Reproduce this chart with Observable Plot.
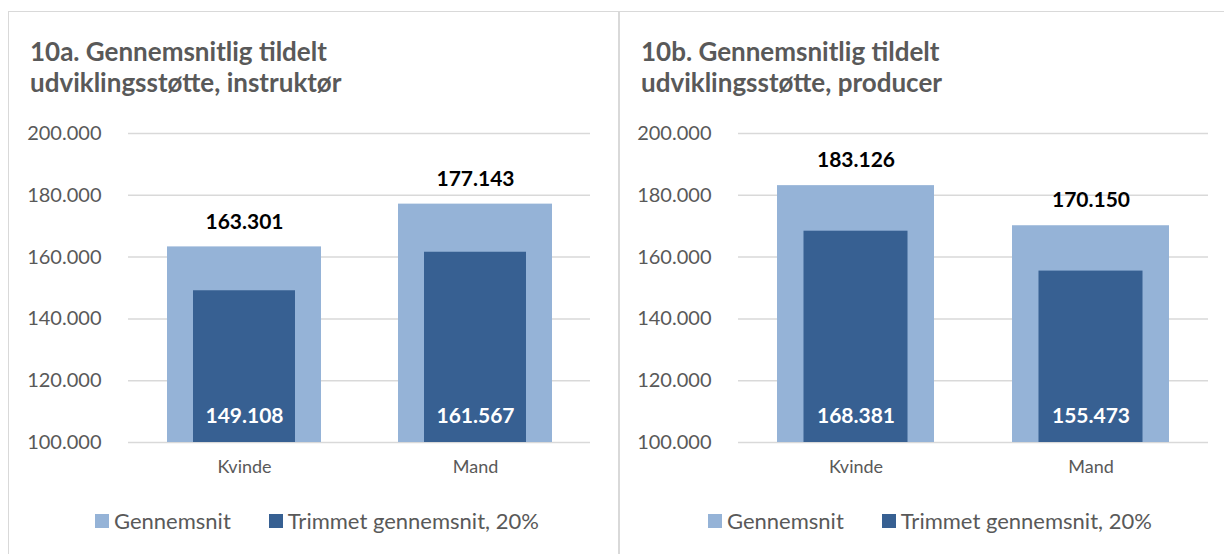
<!DOCTYPE html>
<html><head><meta charset="utf-8">
<script src="https://cdn.jsdelivr.net/npm/d3@7"></script>
<script src="https://cdn.jsdelivr.net/npm/@observablehq/plot@0.6"></script>
<style>
body{margin:0;background:#fff;font-family:Lato, sans-serif;}
#wrap{position:relative;width:1224px;height:554px;overflow:hidden;background:#fff;}
.panel{position:absolute;border:1.5px solid #d9d9d9;box-sizing:border-box;}
.title{position:absolute;font-weight:bold;color:#595959;font-size:26px;line-height:31px;white-space:nowrap;}
.legend{position:absolute;display:flex;align-items:center;color:#595959;font-size:22px;line-height:26px;white-space:nowrap;}
.item{display:flex;align-items:center;}
.sw{width:14px;height:14px;display:inline-block;margin-right:5px;}
.plot{position:absolute;top:100px;}
</style></head><body>
<div id="wrap">
  <div class="panel" style="left:8px;top:11px;width:612px;height:580px"></div>
  <div class="panel" style="left:618px;top:11px;width:640px;height:580px"></div>
  <div class="title" id="t0" style="left:30px;top:36px"></div>
  <div class="title" id="t1" style="left:641px;top:36px"></div>
  <div class="plot" id="p0" style="left:0px"></div>
  <div class="plot" id="p1" style="left:619px"></div>
  <div class="legend" id="l0" style="left:95px;top:508px"></div>
  <div class="legend" id="l1" style="left:708px;top:508px"></div>
</div>
<script>
const categories = ["Kvinde", "Mand"];
const gennemsnitA = [163301, 177143];
const trimmetA = [149108, 161567];
const gennemsnitB = [183126, 170150];
const trimmetB = [168381, 155473];
const yTicks = [100000, 120000, 140000, 160000, 180000, 200000];
const titlesA = ["10a. Gennemsnitlig tildelt", "udviklingsstøtte, instruktør"];
const titlesB = ["10b. Gennemsnitlig tildelt", "udviklingsstøtte, producer"];
const seriesNames = ["Gennemsnit", "Trimmet gennemsnit, 20%"];
const seriesColors = ["#95B3D7", "#376092"];

const locale = d3.formatLocale({decimal: ",", thousands: ".", grouping: [3], currency: ["", ""]});
const fmt = locale.format(",");

function panel(gen, trim, width, ml, mr, inset) {
  const rows = categories.map((c, i) => ({cat: c, gen: gen[i], trim: trim[i]}));
  return Plot.plot({
    width, height: 392, marginTop: 33, marginBottom: 50, marginLeft: ml, marginRight: mr,
    style: {fontFamily: "Lato", fontSize: "19px", color: "#595959", background: "transparent", overflow: "visible"},
    x: {domain: categories, paddingInner: 1/3, paddingOuter: 1/6, label: null},
    y: {domain: [100000, 200000], label: null},
    marks: [
      Plot.ruleY(yTicks, {stroke: "#d9d9d9", strokeWidth: 1.5}),
      Plot.barY(rows, {x: "cat", y1: 100000, y2: "gen", fill: seriesColors[0]}),
      Plot.barY(rows, {x: "cat", y1: 100000, y2: "trim", fill: seriesColors[1], insetLeft: inset, insetRight: inset}),
      Plot.text(rows, {x: "cat", y: "gen", text: d => fmt(d.gen), dy: -25, fontWeight: "bold", fontSize: 21, fill: "black"}),
      Plot.text(rows, {x: "cat", y: 100000, text: d => fmt(d.trim), dy: -26, fontWeight: "bold", fontSize: 21, fill: "white"}),
      Plot.axisY({ticks: yTicks, tickFormat: fmt, tickSize: 0, tickPadding: 27, fontSize: 20, label: null}),
      Plot.axisX({tickSize: 0, tickPadding: 18, fontSize: 18, label: null})
    ]
  });
}

function legend(el) {
  seriesNames.forEach((n, i) => {
    const it = document.createElement("div");
    it.className = "item";
    if (i === 0) it.style.marginRight = "38px";
    const sw = document.createElement("span");
    sw.className = "sw";
    sw.style.background = seriesColors[i];
    it.appendChild(sw);
    it.appendChild(document.createTextNode(n));
    el.appendChild(it);
  });
}

document.getElementById("t0").innerHTML = titlesA.join("<br>");
document.getElementById("t1").innerHTML = titlesB.join("<br>");
document.getElementById("p0").appendChild(panel(gennemsnitA, trimmetA, 610, 128, 20, 26));
document.getElementById("p1").appendChild(panel(gennemsnitB, trimmetB, 605, 119, 16, 26.5));
legend(document.getElementById("l0"));
legend(document.getElementById("l1"));
</script>
</body></html>
